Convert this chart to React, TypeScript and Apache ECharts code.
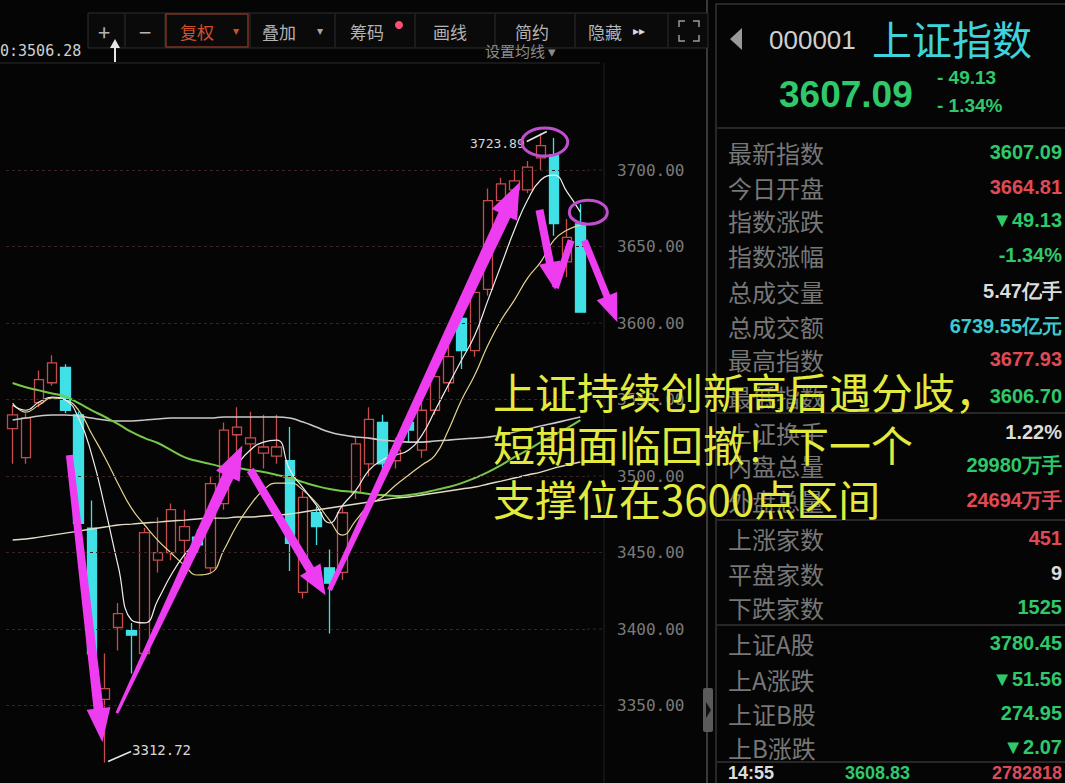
import React, { useEffect, useRef } from 'react';
import * as echarts from 'echarts';

// ---------- data ----------
const categories = ['1','2','3','4','5','6','7','8','9','10','11','12','13','14','15','16','17','18','19','20','21','22','23','24','25','26','27','28','29','30','31','32','33','34','35','36','37','38','39','40','41','42','43','44'];
const opens = [3531,3512,3548,3561,3571,3540,3466,3354,3401,3399,3384,3445,3450,3458,3460,3440,3482,3527,3521,3515,3513,3510,3424,3476,3440,3437,3489,3508,3535,3510,3535,3517,3543,3561,3603,3582,3622,3680,3687,3687,3708,3710,3640,3664.8];
const closes = [3540,3538,3563,3574,3543,3469,3384,3361,3410,3396,3463,3450,3478,3467,3455,3495,3530,3532,3525,3519,3519,3456,3486,3467,3430,3476,3521,3537,3508,3517,3530,3543,3565,3578,3582,3620,3680,3691,3693,3702,3716,3665,3656,3607.09];
const lows = [3508,3508,3545,3559,3541,3466,3380,3312.72,3386,3371,3380,3437,3445,3440,3450,3437,3478,3515,3505,3505,3508,3438,3420,3455,3397,3432,3485,3500,3500,3505,3522,3512,3540,3555,3570,3578,3618,3676,3682,3685,3700,3657,3630,3606.7];
const highs = [3546,3541,3569,3579,3573,3542,3484,3384,3417,3404,3466,3473,3482,3478,3465,3500,3535,3545,3542,3540,3540,3532,3490,3480,3452,3480,3525,3545,3540,3525,3538,3548,3570,3585,3606,3625,3688,3695,3700,3706,3723.89,3721,3668,3677.9];

const ma5 = [3546.4,3543,3548.4,3551.6,3549.7,3537.9,3513.7,3479,3441,3405.9,3404,3419,3435.3,3448.4,3458.2,3477.8,3494.1,3507.2,3517,3522.2,3523.5,3503.9,3492.2,3481,3469.3,3481,3490.8,3503.9,3510.5,3513.7,3517,3526.8,3543,3559.5,3575.8,3592,3615,3637.9,3660.8,3680.4,3693.5,3696.7,3685.6,3672.5];
const ma10 = [3547.7,3541.8,3546.4,3551,3549.7,3543,3527.5,3512,3494.8,3479,3468,3458,3449.7,3441.8,3435.3,3436.6,3451.6,3468,3481,3490.8,3495.4,3495.4,3490.8,3482.4,3471.2,3461.4,3471,3481,3486.3,3494,3500.7,3507.2,3513.7,3530,3549.7,3566,3585.6,3602,3615,3629.4,3640,3654.2,3660.8,3664];
const ma20 = [3560.8,3558,3556,3554,3552,3547.7,3543,3538.6,3534,3528.8,3524.8,3521.6,3517,3512.4,3509.8,3507.8,3505.9,3505.2,3503.9,3502.6,3500.7,3498.7,3496,3493.5,3491.5,3490.2,3489.5,3488.2,3487.6,3487,3487.6,3488.9,3490.8,3492.8,3495.4,3498.7,3502.6,3507.2,3512.4,3517,3522.2,3526.8,3531.4,3536.6];
const ma60 = [3536.6,3537.9,3539.2,3539.9,3539.9,3539.2,3537.9,3536.6,3536,3536,3536.6,3537.3,3537.9,3537.9,3537.9,3537.9,3538.6,3538.6,3538.6,3538.6,3538.6,3537.9,3535.3,3532,3528.8,3526.8,3525.5,3524.8,3523.5,3522.9,3522.2,3522.2,3522.9,3523.5,3524.2,3524.8,3525.5,3526.8,3528.8,3530.7,3532.7,3534.6,3536.6,3538.6];
const ma120 = [3458.2,3458.8,3460.1,3461.4,3462.7,3464,3465.4,3466.7,3468,3468.6,3469.3,3469.9,3470.6,3471.2,3471.9,3472.5,3472.5,3473.2,3473.2,3473.9,3474.5,3475.2,3476.5,3477.8,3479.1,3480.4,3481.7,3483,3484.3,3485.6,3486.3,3487.6,3488.9,3490.2,3491.5,3492.8,3494.8,3496.7,3498.7,3500.7,3502.6,3505.2,3507.2,3509.2];

const gridLevels = [3350,3400,3450,3500,3550,3600,3650,3700];
const highLabel = '3723.89';
const lowLabel = '3312.72';
const maReadout = '0:3506.28';

const toolbarItems = ['+','−','复权','叠加','筹码','画线','简约','隐藏'];
const overlayLines = ['上证持续创新高后遇分歧，','短期面临回撤！下一个','支撑位在3600点区间'];

const panelLabels = ['最新指数','今日开盘','指数涨跌','指数涨幅','总成交量','总成交额','最高指数','最低指数','上证换手','内盘总量','外盘总量','上涨家数','平盘家数','下跌家数','上证A股','上A涨跌','上证B股','上B涨跌'];
const panelValues = ['3607.09','3664.81','▼49.13','-1.34%','5.47亿手','6739.55亿元','3677.93','3606.70','1.22%','29980万手','24694万手','451','9','1525','3780.45','▼51.56','274.95','▼2.07'];
const panelValueColors = ['g','r','g','g','w','c','r','g','w','g','r','r','w','g','g','g','g','g'];
const panelRowY = [152,187,220,255,291,326,359,396,432,465,500,538,573,607,643,679,713,747];
const tickRow = ['14:55','3608.83','2782818'];

// annotation arrows in data coordinates [index, value]
const arrowDefs = [
  { from: [4.3, 3513.7], to: [6.8, 3326], w1: 7, w2: 10, hw: 24, hl: 34 },
  { from: [7.9, 3345], to: [17.4, 3520], w1: 3, w2: 12, hw: 26, hl: 34 },
  { from: [18.0, 3504], to: [23.7, 3422], w1: 8, w2: 9, hw: 24, hl: 30 },
  { from: [24.0, 3425.5], to: [38.4, 3692], w1: 5, w2: 13, hw: 28, hl: 36 },
  { from: [39.9, 3674], to: [41.1, 3621.6], w1: 8, w2: 8, hw: 22, hl: 28 },
  { from: [41.1, 3623], to: [42.3, 3654], w1: 7, w2: 7, hw: 0, hl: 0 },
  { from: [43.3, 3654], to: [45.8, 3600.6], w1: 7, w2: 7, hw: 22, hl: 28 },
];

const W = 1065;
const H = 783;
const GRID_LEFT = 6;
const GRID_RIGHT = 478;
const GRID_TOP = 63;
const GRID_BOTTOM = 1;
const Y_MIN = 3300;
const Y_MAX = 3770;

function arrowPts(a: number[], b: number[], w1: number, w2: number, hw: number, hl: number) {
  const dx = b[0] - a[0], dy = b[1] - a[1];
  const L = Math.hypot(dx, dy);
  const ux = dx / L, uy = dy / L;
  const nx = -uy, ny = ux;
  if (hl === 0) {
    return [
      [a[0] + nx * w1 / 2, a[1] + ny * w1 / 2],
      [b[0] + nx * w2 / 2, b[1] + ny * w2 / 2],
      [b[0] - nx * w2 / 2, b[1] - ny * w2 / 2],
      [a[0] - nx * w1 / 2, a[1] - ny * w1 / 2],
    ];
  }
  const bx = b[0] - ux * hl, by = b[1] - uy * hl;
  return [
    [a[0] + nx * w1 / 2, a[1] + ny * w1 / 2],
    [bx + nx * w2 / 2, by + ny * w2 / 2],
    [bx + nx * hw / 2, by + ny * hw / 2],
    [b[0], b[1]],
    [bx - nx * hw / 2, by - ny * hw / 2],
    [bx - nx * w2 / 2, by - ny * w2 / 2],
    [a[0] - nx * w1 / 2, a[1] - ny * w1 / 2],
  ];
}

const CJK = "'Noto Sans CJK SC', 'Noto Sans', sans-serif";
const NUM = "'Liberation Sans', Arial, sans-serif";
const MONO = "'DejaVu Sans Mono', monospace";

export default function App() {
  const ref = useRef<HTMLDivElement>(null);

  useEffect(() => {
    const chart = echarts.init(ref.current!, null, { renderer: 'svg' });
    const plotW = W - GRID_LEFT - GRID_RIGHT;
    const plotH = H - GRID_TOP - GRID_BOTTOM;
    const band = plotW / categories.length;
    const px = (i: number, v: number): number[] => [
      GRID_LEFT + (i + 0.5) * band,
      GRID_TOP + ((Y_MAX - v) / (Y_MAX - Y_MIN)) * plotH,
    ];

    const candleData = categories.map((_, i) => [opens[i], closes[i], lows[i], highs[i]]);

    const graphics: any[] = [];
    // chart frame lines
    graphics.push({ type: 'line', shape: { x1: 0, y1: GRID_TOP, x2: 600, y2: GRID_TOP }, style: { stroke: '#2c2c2c', lineWidth: 1 }, z: 1 });
    graphics.push({ type: 'line', shape: { x1: 604, y1: GRID_TOP, x2: 604, y2: H }, style: { stroke: '#222', lineWidth: 1 }, z: 1 });
    graphics.push({ type: 'line', shape: { x1: 707, y1: 0, x2: 707, y2: H }, style: { stroke: '#3a3a3a', lineWidth: 2 }, z: 1 });
    graphics.push({ type: 'rect', shape: { x: 716, y: 4, width: 360, height: 790 }, style: { stroke: '#333', fill: 'none', lineWidth: 1.5 }, z: 1 });
    // extend the dotted grid lines toward the axis
    gridLevels.forEach((v) => {
      const p = px(0, v);
      graphics.push({ type: 'line', shape: { x1: W - GRID_RIGHT, y1: p[1], x2: 604, y2: p[1] }, style: { stroke: '#3a2323', lineWidth: 1, lineDash: [3, 3] }, z: 1 });
    });
    // collapse handle
    graphics.push({ type: 'rect', shape: { x: 703, y: 688, width: 10, height: 44, r: 2 }, style: { fill: '#5a5a5a' }, z: 2 });
    graphics.push({ type: 'polygon', shape: { points: [[706, 702], [711, 710], [706, 718]] }, style: { fill: '#111' }, z: 3 });

    // toolbar
    graphics.push({ type: 'rect', shape: { x: 88, y: 13, width: 620, height: 35 }, style: { stroke: '#2e2e2e', fill: '#0a0a0a', lineWidth: 1 }, z: 1 });
    [125, 165, 250, 335, 415, 495, 575, 668].forEach((x) => {
      graphics.push({ type: 'line', shape: { x1: x, y1: 14, x2: x, y2: 47 }, style: { stroke: '#2e2e2e', lineWidth: 1 }, z: 2 });
    });
    graphics.push({ type: 'rect', shape: { x: 166, y: 14, width: 82, height: 33 }, style: { stroke: '#7a3525', fill: 'none', lineWidth: 1.5 }, z: 3 });
    const tbX = [104, 145, 180, 262, 350, 433, 515, 588];
    toolbarItems.forEach((t, k) => {
      const isFq = t === '复权';
      const isSign = k < 2;
      graphics.push({
        type: 'text', x: tbX[k], y: 31, z: 3,
        style: {
          text: t, fill: isFq ? '#d0502d' : '#b4b4b4', fontSize: isSign ? 22 : 17,
          fontFamily: CJK, align: isSign ? 'center' : 'left', verticalAlign: 'middle',
        },
      });
    });
    graphics.push({ type: 'text', x: 236, y: 31, z: 3, style: { text: '▾', fill: '#d0502d', fontSize: 12, fontFamily: NUM, align: 'center', verticalAlign: 'middle' } });
    graphics.push({ type: 'text', x: 320, y: 31, z: 3, style: { text: '▾', fill: '#a8a8a8', fontSize: 12, fontFamily: NUM, align: 'center', verticalAlign: 'middle' } });
    graphics.push({ type: 'circle', shape: { cx: 399, cy: 25, r: 4 }, style: { fill: '#ff4d73' }, z: 3 });
    graphics.push({ type: 'text', x: 633, y: 31, z: 3, style: { text: '▸▸', fill: '#d8d8d8', fontSize: 12, fontFamily: NUM, align: 'left', verticalAlign: 'middle' } });
    // fullscreen icon
    const fx = 679, fy = 21, fs = 20, c = 6;
    [[fx, fy, 1, 1], [fx + fs, fy, -1, 1], [fx, fy + fs, 1, -1], [fx + fs, fy + fs, -1, -1]].forEach(([x, y, sx, sy]) => {
      graphics.push({ type: 'polyline', shape: { points: [[x + sx * c, y], [x, y], [x, y + sy * c]] }, style: { stroke: '#9a9a9a', lineWidth: 1.5, fill: 'none' }, z: 3 });
    });

    // subheader
    graphics.push({ type: 'text', x: 0, y: 51, z: 3, style: { text: maReadout, fill: '#d0d0d0', fontSize: 15, fontFamily: MONO, verticalAlign: 'middle' } });
    graphics.push({ type: 'line', shape: { x1: 115, y1: 62, x2: 115, y2: 41 }, style: { stroke: '#e6e6e6', lineWidth: 2 }, z: 3 });
    graphics.push({ type: 'polygon', shape: { points: [[110, 48], [115, 39], [120, 48]] }, style: { fill: '#e6e6e6' }, z: 3 });
    graphics.push({ type: 'text', x: 485, y: 50, z: 3, style: { text: '设置均线 ▾', fill: '#8a8a8a', fontSize: 15, fontFamily: CJK, verticalAlign: 'middle' } });

    // high / low labels
    const hp = px(40, 3723.89);
    graphics.push({ type: 'text', x: hp[0] - 16, y: hp[1] + 10, z: 5, style: { text: highLabel, fill: '#d8d8d8', fontSize: 13, fontFamily: MONO, align: 'right', verticalAlign: 'middle' } });
    graphics.push({ type: 'polyline', shape: { points: [[hp[0] - 14, hp[1] + 8], [hp[0] + 6, hp[1] - 2]] }, style: { stroke: '#e8e8e8', lineWidth: 1.5, fill: 'none' }, z: 5 });
    const lp = px(7, 3312.72);
    graphics.push({ type: 'text', x: lp[0] + 27, y: lp[1] - 13, z: 5, style: { text: lowLabel, fill: '#d8d8d8', fontSize: 14, fontFamily: MONO, align: 'left', verticalAlign: 'middle' } });
    graphics.push({ type: 'polyline', shape: { points: [[lp[0] + 3, lp[1] - 1], [lp[0] + 26, lp[1] - 11]] }, style: { stroke: '#e8e8e8', lineWidth: 1.5, fill: 'none' }, z: 5 });

    // magenta arrows
    arrowDefs.forEach((a) => {
      const p1 = px(a.from[0], a.from[1]);
      const p2 = px(a.to[0], a.to[1]);
      graphics.push({ type: 'polygon', shape: { points: arrowPts(p1, p2, a.w1, a.w2, a.hw, a.hl) }, style: { fill: '#ee3cf0' }, z: 10 });
    });
    // circles
    const c1 = px(40.3, 3718.3);
    graphics.push({ type: 'ellipse', shape: { cx: c1[0], cy: c1[1], rx: 23, ry: 14 }, style: { stroke: '#c04fcf', lineWidth: 3, fill: 'none' }, z: 10 });
    const c2 = px(43.6, 3672.5);
    graphics.push({ type: 'ellipse', shape: { cx: c2[0], cy: c2[1], rx: 19, ry: 12 }, style: { stroke: '#c04fcf', lineWidth: 3, fill: 'none' }, z: 10 });

    // right panel header
    graphics.push({ type: 'polygon', shape: { points: [[742, 28], [730, 39], [742, 50]] }, style: { fill: '#9a9a9a' }, z: 3 });
    graphics.push({ type: 'text', x: 769, y: 40, z: 3, style: { text: '000001', fill: '#cfcfcf', fontSize: 26, fontFamily: NUM, verticalAlign: 'middle' } });
    graphics.push({ type: 'text', x: 872, y: 38, z: 3, style: { text: '上证指数', fill: '#3fd3db', fontSize: 40, fontFamily: CJK, verticalAlign: 'middle' } });
    graphics.push({ type: 'text', x: 779, y: 94, z: 3, style: { text: '3607.09', fill: '#2fc86a', fontSize: 37, fontWeight: 'bold', fontFamily: NUM, verticalAlign: 'middle' } });
    graphics.push({ type: 'text', x: 937, y: 77, z: 3, style: { text: '- 49.13', fill: '#2fc86a', fontSize: 19, fontWeight: 'bold', fontFamily: NUM, verticalAlign: 'middle' } });
    graphics.push({ type: 'text', x: 937, y: 105, z: 3, style: { text: '- 1.34%', fill: '#2fc86a', fontSize: 19, fontWeight: 'bold', fontFamily: NUM, verticalAlign: 'middle' } });
    [128, 413, 520, 625, 762].forEach((y) => {
      graphics.push({ type: 'line', shape: { x1: 717, y1: y, x2: W, y2: y }, style: { stroke: '#333', lineWidth: 1.5 }, z: 2 });
    });
    const colorMap: Record<string, string> = { g: '#2fc86a', r: '#e04a55', w: '#dcdcdc', c: '#3fc8d0' };
    panelLabels.forEach((lab, k) => {
      graphics.push({ type: 'text', x: 728, y: panelRowY[k], z: 3, style: { text: lab, fill: '#777', fontSize: 24, fontFamily: CJK, verticalAlign: 'middle' } });
      graphics.push({ type: 'text', x: 1062, y: panelRowY[k], z: 3, style: { text: panelValues[k], fill: colorMap[panelValueColors[k]], fontSize: 20, fontWeight: 'bold', fontFamily: NUM, align: 'right', verticalAlign: 'middle' } });
    });
    graphics.push({ type: 'text', x: 728, y: 773, z: 3, style: { text: tickRow[0], fill: '#dcdcdc', fontSize: 18, fontWeight: 'bold', fontFamily: NUM, verticalAlign: 'middle' } });
    graphics.push({ type: 'text', x: 845, y: 773, z: 3, style: { text: tickRow[1], fill: '#2fc86a', fontSize: 18, fontWeight: 'bold', fontFamily: NUM, verticalAlign: 'middle' } });
    graphics.push({ type: 'text', x: 1062, y: 773, z: 3, style: { text: tickRow[2], fill: '#e04a55', fontSize: 18, fontWeight: 'bold', fontFamily: NUM, align: 'right', verticalAlign: 'middle' } });

    // yellow overlay text
    const overlayY = [390, 443, 497];
    overlayLines.forEach((t, k) => {
      graphics.push({ type: 'text', x: 493, y: overlayY[k], z: 20, style: { text: t, fill: '#e2ea3e', fontSize: 42, fontFamily: CJK, verticalAlign: 'middle', stroke: 'rgba(0,0,0,0.55)', lineWidth: 1 } });
    });

    const lineSeries = (name: string, data: number[], color: string, width: number) => ({
      name, type: 'line', data, smooth: true, showSymbol: false, symbol: 'none', z: 4,
      lineStyle: { color, width }, silent: true,
    });

    chart.setOption({
      animation: false,
      backgroundColor: '#050505',
      grid: { left: GRID_LEFT, right: GRID_RIGHT, top: GRID_TOP, bottom: GRID_BOTTOM },
      xAxis: {
        type: 'category', data: categories, boundaryGap: true,
        axisLine: { show: false }, axisTick: { show: false }, axisLabel: { show: false }, splitLine: { show: false },
      },
      yAxis: {
        type: 'value', position: 'right', min: Y_MIN, max: Y_MAX, interval: 50, offset: 12,
        axisLine: { show: false }, axisTick: { show: false }, splitLine: { show: false },
        axisLabel: {
          margin: 18, color: '#7a7a7a', fontSize: 16, fontFamily: MONO,
          formatter: (v: number) => (v >= 3350 && v <= 3700 ? v.toFixed(2) : ''),
        },
      },
      series: [
        {
          name: 'K', type: 'candlestick', data: candleData, barWidth: 10, z: 3,
          itemStyle: { color: 'rgba(0,0,0,0)', color0: '#3fe0e6', borderColor: '#c44c4c', borderColor0: '#3fe0e6', borderWidth: 1.3 },
          markLine: {
            silent: true, symbol: 'none', label: { show: false },
            lineStyle: { color: '#3a2323', type: [3, 3], width: 1 },
            data: gridLevels.map((v) => ({ yAxis: v })),
          },
        },
        lineSeries('MA120', ma120, '#e3dcc4', 1.4),
        lineSeries('MA60', ma60, '#c9c9c9', 1.6),
        lineSeries('MA20', ma20, '#77c84a', 2),
        lineSeries('MA10', ma10, '#e4d68e', 1.2),
        lineSeries('MA5', ma5, '#efefef', 1.2),
      ],
      graphic: graphics,
    });

    return () => chart.dispose();
  }, []);

  return (
    <div
      ref={ref}
      style={{ position: 'fixed', left: 0, top: 0, width: W, height: H, background: '#050505' }}
    />
  );
}
